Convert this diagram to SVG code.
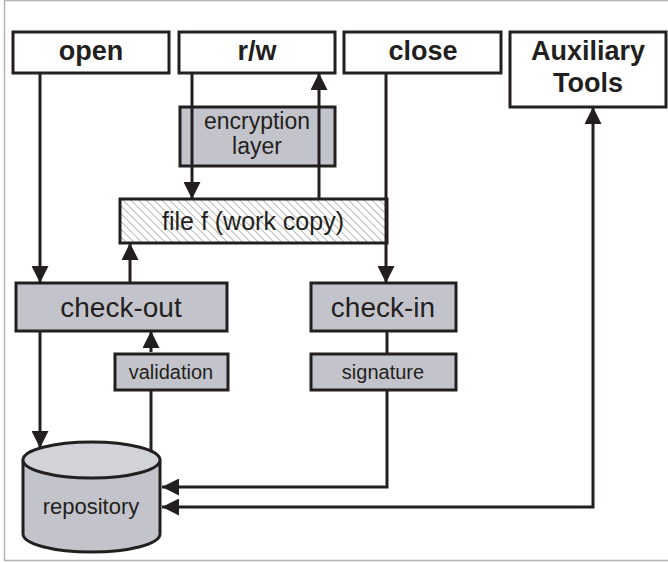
<svg xmlns="http://www.w3.org/2000/svg" width="668" height="563" viewBox="0 0 668 563">
  <style>
    .box { stroke: #231f20; stroke-width: 3; }
    .white { fill: #ffffff; }
    .grey { fill: #c3c4cb; }
    .bold { font-family: "Liberation Sans", Arial, sans-serif; font-weight: bold; fill: #231f20; text-anchor: middle; }
    .reg { font-family: "Liberation Sans", Arial, sans-serif; fill: #231f20; text-anchor: middle; }
    .wire { fill: none; stroke: #231f20; stroke-width: 3; }
  </style>
  <defs>
    <marker id="arrow" markerUnits="userSpaceOnUse" markerWidth="17" markerHeight="17" refX="17" refY="8.5" orient="auto-start-reverse">
      <path d="M0,0 L17,8.5 L0,17 z" fill="#231f20"/>
    </marker>
    <pattern id="hatch" patternUnits="userSpaceOnUse" width="5.5" height="5.5" patternTransform="rotate(-45)">
      <rect width="5.5" height="5.5" fill="#ffffff"/>
      <line x1="0" y1="0" x2="0" y2="5.5" stroke="#9c9c9c" stroke-width="1.4"/>
    </pattern>
  </defs>

  <rect width="668" height="563" fill="#ffffff"/>
  <!-- outer frame: left, top and bottom edges -->
  <path d="M668,0.5 H4.5 V560.5 H668" fill="none" stroke="#b4b4b4" stroke-width="1.5"/>

  <g id="open">
    <rect class="box white" x="13" y="32" width="156" height="41"/>
    <text class="bold" x="91" y="60" font-size="27">open</text>
  </g>
  <g id="rw">
    <rect class="box white" x="179" y="32" width="156" height="41"/>
    <text class="bold" x="257" y="60" font-size="27">r/w</text>
  </g>
  <g id="close">
    <rect class="box white" x="344" y="32" width="157" height="41"/>
    <text class="bold" x="423" y="60" font-size="27">close</text>
  </g>
  <g id="auxiliary-tools">
    <rect class="box white" x="510" y="32" width="156" height="75"/>
    <text class="bold" x="588" y="60" font-size="27">Auxiliary</text>
    <text class="bold" x="588" y="92" font-size="27">Tools</text>
  </g>
  <g id="encryption-layer">
    <rect class="box grey" x="180" y="107" width="155" height="59"/>
    <text class="reg" x="257" y="129" font-size="23">encryption</text>
    <text class="reg" x="257" y="154" font-size="23">layer</text>
  </g>
  <g id="work-copy">
    <rect class="box" x="120" y="199" width="267" height="44" fill="url(#hatch)"/>
    <text class="reg" x="253" y="230" font-size="25">file f (work copy)</text>
  </g>
  <g id="check-out">
    <rect class="box grey" x="16" y="283" width="211" height="48"/>
    <text class="reg" x="121" y="317" font-size="28">check-out</text>
  </g>
  <g id="check-in">
    <rect class="box grey" x="311" y="283" width="145" height="48"/>
    <text class="reg" x="383" y="317" font-size="28">check-in</text>
  </g>
  <g id="validation">
    <rect class="box grey" x="115" y="354" width="113" height="36"/>
    <text class="reg" x="171" y="379" font-size="20">validation</text>
  </g>
  <g id="signature">
    <rect class="box grey" x="311" y="354" width="145" height="36"/>
    <text class="reg" x="383" y="379" font-size="20">signature</text>
  </g>
  <g id="repository">
    <path class="box grey" d="M23,460 V534 A68.5,18 0 0 0 160,534 V460"/>
    <ellipse class="box" cx="91.5" cy="460" rx="68.5" ry="18" fill="#d2d3d9"/>
    <text class="reg" x="91" y="514" font-size="22">repository</text>
  </g>

  <g id="connectors">
    <path class="wire" d="M40,73 V283" marker-end="url(#arrow)"/>
    <path class="wire" d="M192,73 V199" marker-end="url(#arrow)"/>
    <path class="wire" d="M319,199 V73" marker-end="url(#arrow)"/>
    <path class="wire" d="M386,73 V283" marker-end="url(#arrow)"/>
    <path class="wire" d="M130,283 V243" marker-end="url(#arrow)"/>
    <path class="wire" d="M40,331 V448" marker-end="url(#arrow)"/>
    <path class="wire" d="M151,352 V331" marker-end="url(#arrow)"/>
    <path class="wire" d="M151,451 V391"/>
    <path class="wire" d="M387,331 V353"/>
    <path class="wire" d="M387,391 V487 H162" marker-end="url(#arrow)"/>
    <path class="wire" d="M162,507 H593 V107" marker-start="url(#arrow)" marker-end="url(#arrow)"/>
  </g>
</svg>
